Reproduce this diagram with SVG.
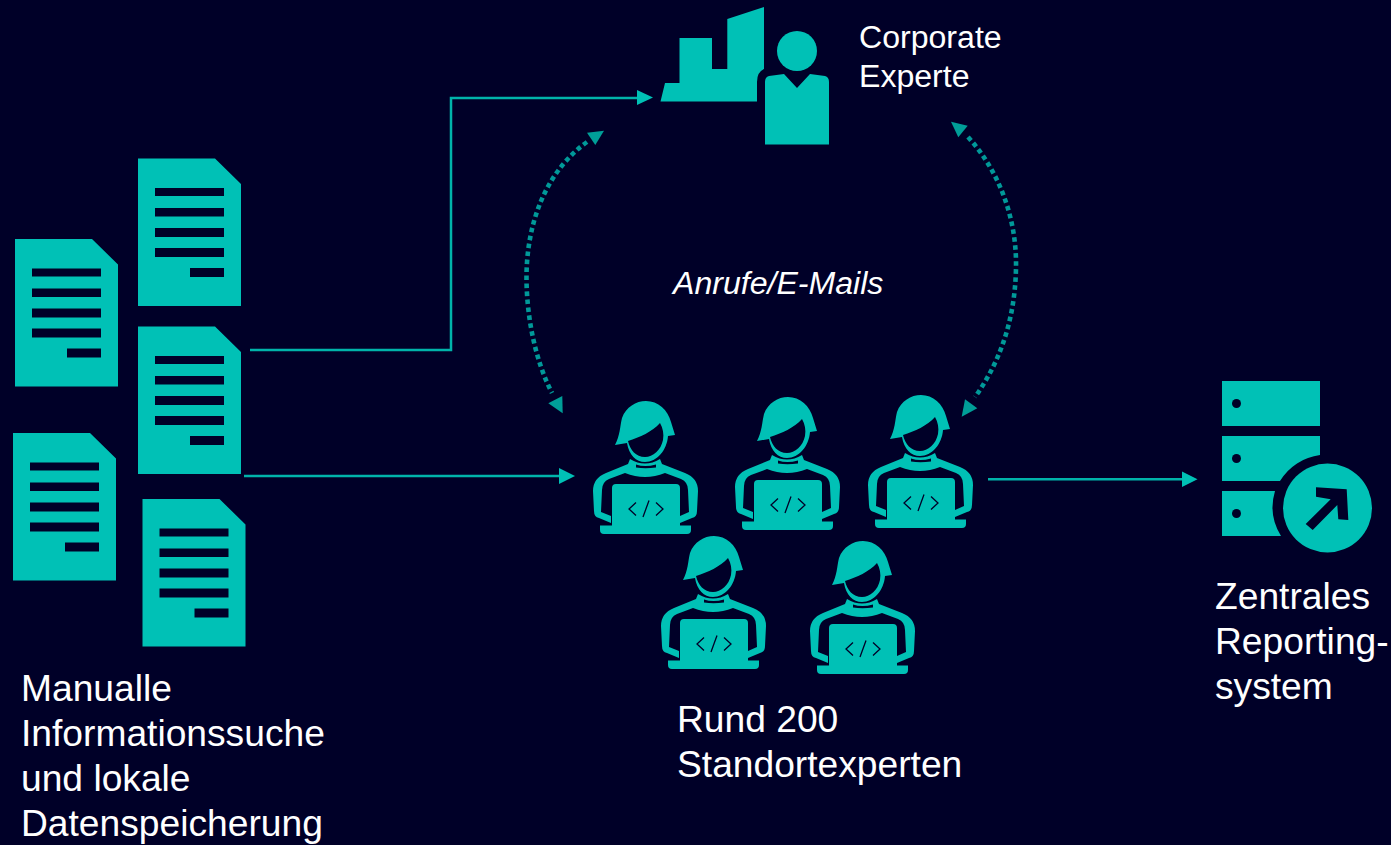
<svg xmlns="http://www.w3.org/2000/svg" width="1391" height="845" viewBox="0 0 1391 845">
<style>
.t{font-family:"Liberation Sans",Arial,sans-serif;font-size:37.200px;fill:#fff}
.s{font-size:32.100px}
.i{fill:#00c1b6}
.l{fill:none;stroke:#00b3aa;stroke-width:2.500}
.d{fill:none;stroke:#009999;stroke-width:4.600;stroke-dasharray:4.600 3.400}
.h{fill:#009e98}
.h2{fill:#00c1b6}
</style>
<defs>
<path id="doc" class="i" fill-rule="evenodd" d="M0,0H77L103,25.500V147.500H0ZM17,29.500V37.500H86V29.500ZM17,49.500V58H86V49.500ZM17,69.500V78.500H86V69.500ZM17,89.500V98.500H86V89.500ZM52,109.500V118.500H86V109.500Z"/>
<g id="person">
<path class="i" d="M35,55C40,46 40,36 42,28C46,17 56,11 66,11C78,11 88,20 91,32L95,45L88,46C87,60 77,72 65,72C56,72 49,65 47,53Z"/>
<path fill="#000028" d="M48,51C60,47 72,42 80,33C83,38 84,44 83,50C81,60 73,67 65,67C56,67 50,60 48,51Z"/>
<path class="i" d="M50,69Q65,78 80,69L82,74L105,83Q118,88 118,101L117,121Q117,127 112,128L100,133V126L109,122L108,100Q108,92 101,89L85,83Q65,91 45,83L29,89Q22,92 22,100L21,122L31,126V133L19,128Q14,127 14,121L13,101Q13,88 26,83L48,74Z"/>
<path fill="#000028" d="M56,74.500Q65,77.500 76,74.500L76,77.500Q65,79 56,77.500Z"/>
<path class="i" d="M36,94H96Q100,94 100,98V135.500H111V140Q111,144 107,144H24Q20,144 20,140V135.500H32V98Q32,94 36,94Z"/>
<path fill="none" stroke="#000028" stroke-width="1.300" d="M56,112.500L49,119L56,125.500M76,112.500L83,119L76,125.500M69,110.500L63,127"/>
</g>
</defs>
<rect width="1391" height="845" fill="#000028"/>
<g id="connectors">
<path class="l" d="M250,350H451V98H640"/>
<path class="h2" d="M653,97.500L637,90V105Z"/>
<path class="l" d="M244,476H563"/>
<path class="h2" d="M575,476L559,468V484Z"/>
<path class="l" d="M988,479.300H1185"/>
<path class="h2" d="M1197.500,479.300L1182,471.500V487Z"/>
<path class="d" d="M587,142C545,172 526,225 526.500,280C527,320 536,362 552,393"/>
<path class="h" d="M604,130.700L587,132.700L595.300,145Z"/>
<path class="h" d="M562.700,413.300L548.300,403.300L562.300,396Z"/>
<path class="d" d="M968,137C1000,172 1017,220 1016,268C1015,320 1000,362 975,397"/>
<path class="h" d="M951,121.700L967.700,125.700L958.300,137.300Z"/>
<path class="h" d="M961.700,416.700L965,399.300L977.300,408.300Z"/>
</g>
<g id="doc-1"><use href="#doc" x="138" y="158.500"/></g>
<g id="doc-2"><use href="#doc" x="15" y="239"/></g>
<g id="doc-3"><use href="#doc" x="138" y="326.500"/></g>
<g id="doc-4"><use href="#doc" x="13" y="433"/></g>
<g id="doc-5"><use href="#doc" x="142.500" y="499"/></g>
<text class="t" x="21" y="701">Manualle</text>
<text class="t" x="21" y="746">Informationssuche</text>
<text class="t" x="21" y="791">und lokale</text>
<text class="t" x="21" y="836">Datenspeicherung</text>
<g id="corporate-expert">
<path class="i" d="M660.500,101.500L665,83H679.500V38H712V69H727.300V19L764,7V69Q757,72 757,82V101.500Z"/>
<circle class="i" cx="797" cy="51" r="20"/>
<path class="i" d="M765,144.500V82Q765,77 769,76L784,74L797,88L810,74L825,76Q829,77 829,82V144.500Z"/>
<text class="t s" x="859" y="48">Corporate</text>
<text class="t s" x="859" y="87">Experte</text>
</g>
<text class="t s" x="673" y="294" font-style="italic">Anrufe/E-Mails</text>
<g id="expert-1"><use href="#person" x="580" y="390"/></g>
<g id="expert-2"><use href="#person" x="722" y="386"/></g>
<g id="expert-3"><use href="#person" x="855" y="384"/></g>
<g id="expert-4"><use href="#person" x="648" y="525"/></g>
<g id="expert-5"><use href="#person" x="797" y="530"/></g>
<text class="t" x="677" y="732">Rund 200</text>
<text class="t" x="677" y="777">Standortexperten</text>
<g id="reporting-system">
<rect class="i" x="1222" y="381" width="98" height="45"/>
<path class="i" d="M1222,436H1320V455A55,55 0 0 0 1280,481H1222Z"/>
<path class="i" d="M1222,491H1275A55,55 0 0 0 1281,536H1222Z"/>
<circle fill="#000028" cx="1236.500" cy="403.500" r="4.500"/>
<circle fill="#000028" cx="1236.500" cy="458.500" r="4.500"/>
<circle fill="#000028" cx="1236.500" cy="513.500" r="4.500"/>
<circle class="i" cx="1327.500" cy="508" r="44.500"/>
<path fill="#000028" d="M1316,487.300L1346.700,489.300L1348.300,520L1338.300,519.300L1337.300,505L1312.700,530L1305.700,524L1330.700,499.300L1316,496.700Z"/>
</g>
<text class="t" x="1215" y="609">Zentrales</text>
<text class="t" x="1215" y="654">Reporting-</text>
<text class="t" x="1215" y="699">system</text>
</svg>
